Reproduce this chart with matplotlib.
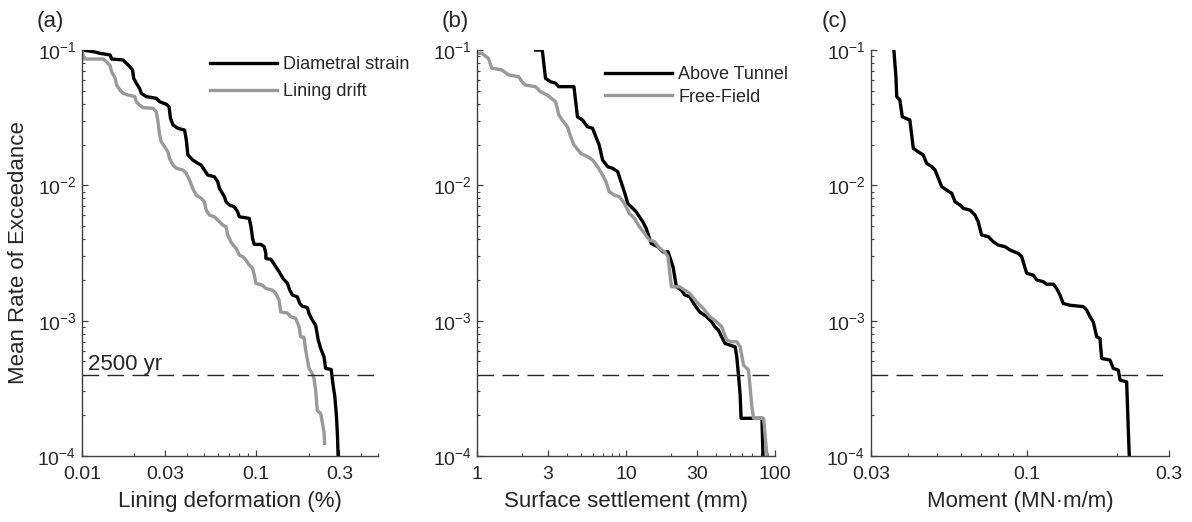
import matplotlib
matplotlib.use("Agg")
import matplotlib.pyplot as plt
from matplotlib.ticker import FixedLocator, LogLocator, NullFormatter, FixedFormatter

plt.rcParams['font.family'] = 'Liberation Sans'
plt.rcParams['mathtext.fontset'] = 'custom'
plt.rcParams['mathtext.rm'] = 'Liberation Sans'
plt.rcParams['mathtext.it'] = 'Liberation Sans:italic'

# (a) lining deformation (%)
diam_x = [0.0101, 0.0116, 0.0127, 0.0145, 0.0148, 0.0172, 0.0180, 0.0188, 0.0195, 0.0198,
          0.0205, 0.0214, 0.0219, 0.0234, 0.0267, 0.0279, 0.0305, 0.0316, 0.0322, 0.0333,
          0.0355, 0.0388, 0.0397, 0.0405, 0.0432, 0.0462, 0.0483, 0.0504, 0.0527, 0.0575,
          0.0601, 0.0615, 0.0657, 0.0671, 0.0702, 0.0748, 0.0782, 0.0799, 0.0912, 0.0933,
          0.0953, 0.0975, 0.1064, 0.1111, 0.1136, 0.1136, 0.1214, 0.1297, 0.1353, 0.1427,
          0.1510, 0.1559, 0.1612, 0.1722, 0.1778, 0.1841, 0.1966, 0.2009, 0.2099, 0.2193,
          0.2270, 0.2344, 0.2449, 0.2503, 0.2694, 0.2754, 0.2827, 0.2890, 0.2929, 0.2952]
diam_y = [0.100, 0.0972, 0.0945, 0.0919, 0.0858, 0.0844, 0.0797, 0.0753, 0.0712, 0.0618,
          0.0568, 0.0521, 0.0479, 0.0452, 0.0440, 0.0415, 0.0397, 0.0381, 0.0313, 0.0279,
          0.0264, 0.0256, 0.0216, 0.0168, 0.0154, 0.01455, 0.01413, 0.01298, 0.01191, 0.01158,
          0.01064, 0.00950, 0.00824, 0.00757, 0.00715, 0.00695, 0.00638, 0.00586, 0.00570, 0.00494,
          0.00406, 0.00366, 0.00366, 0.00352, 0.00314, 0.00288, 0.00284, 0.00250, 0.00230, 0.00205,
          0.00189, 0.00168, 0.00155, 0.00150, 0.00134, 0.00128, 0.00125, 0.00113, 0.00101, 0.000927,
          0.000719, 0.000624, 0.000541, 0.000444, 0.000436, 0.000344, 0.000274, 0.000195, 0.000139, 0.0001]

drift_x = [0.0100, 0.0103, 0.0132, 0.0138, 0.0145, 0.0148, 0.0155, 0.0158, 0.0165, 0.0172,
           0.0184, 0.0201, 0.0205, 0.0214, 0.0224, 0.0255, 0.0267, 0.0273, 0.0279, 0.0285,
           0.0298, 0.0311, 0.0318, 0.0333, 0.0348, 0.0379, 0.0397, 0.0414, 0.0432, 0.0452,
           0.0483, 0.0504, 0.0516, 0.0539, 0.0575, 0.0615, 0.0642, 0.0671, 0.0686, 0.0716,
           0.0732, 0.0766, 0.0793, 0.0800, 0.0836, 0.0873, 0.0912, 0.0953, 0.0975, 0.0996,
           0.1087, 0.1136, 0.1240, 0.1297, 0.1353, 0.1383, 0.1510, 0.1578, 0.1685, 0.1762,
           0.1800, 0.1880, 0.1922, 0.2009, 0.2099, 0.2145, 0.2193, 0.2240, 0.2344, 0.2393,
           0.2449, 0.2470]
drift_y = [0.097, 0.0858, 0.0858, 0.0820, 0.0766, 0.0691, 0.0618, 0.0551, 0.0506, 0.0479,
           0.0465, 0.0452, 0.0415, 0.0392, 0.0375, 0.0371, 0.0350, 0.0295, 0.0235, 0.0210,
           0.0193, 0.0177, 0.0158, 0.0141, 0.01336, 0.01298, 0.01227, 0.01094, 0.00950, 0.00848,
           0.00801, 0.00757, 0.00656, 0.00603, 0.00586, 0.00538, 0.00509, 0.00494, 0.00430, 0.00383,
           0.00366, 0.00342, 0.00314, 0.00305, 0.00297, 0.00280, 0.00258, 0.00244, 0.00217, 0.00189,
           0.00183, 0.00173, 0.00168, 0.00159, 0.00142, 0.00116, 0.00114, 0.00107, 0.00104, 0.000902,
           0.000760, 0.000753, 0.000607, 0.000444, 0.000407, 0.000375, 0.000307, 0.000218, 0.000206, 0.000179,
           0.000151, 0.000124]

# (b) surface settlement (mm)
above_x = [2.47, 2.74, 2.88, 3.11, 3.37, 3.54, 4.47, 4.72, 5.10, 5.51,
           5.96, 6.27, 6.60, 6.96, 7.52, 8.13, 8.79, 9.25, 9.74, 10.27,
           10.81, 11.69, 12.30, 12.97, 13.65, 14.75, 16.37, 17.70, 19.13, 20.68,
           21.77, 23.53, 24.78, 26.79, 28.94, 31.27, 34.73, 37.53, 39.51, 41.65,
           43.85, 46.17, 49.89, 53.95, 55.35, 56.86, 58.32, 59.20, 81.7, 83.0]
above_y = [0.100, 0.100, 0.0618, 0.0583, 0.0568, 0.0536, 0.0536, 0.0321, 0.0304, 0.0271,
           0.0264, 0.0229, 0.0199, 0.0154, 0.01374, 0.01336, 0.01262, 0.01064, 0.00898, 0.00736,
           0.00695, 0.00638, 0.00586, 0.00538, 0.00481, 0.00372, 0.00352, 0.00323, 0.00323, 0.00250,
           0.00178, 0.00168, 0.00155, 0.00150, 0.00130, 0.00116, 0.00107, 0.000982, 0.000902, 0.000853,
           0.000760, 0.000679, 0.000660, 0.000641, 0.000541, 0.000396, 0.000282, 0.000190, 0.000190, 0.0001]

free_x = [1.00, 1.00, 1.076, 1.192, 1.257, 1.469, 1.627, 1.901, 2.005, 2.11,
          2.466, 2.666, 2.958, 3.365, 3.54, 3.73, 4.04, 4.25, 4.47, 4.97,
          5.51, 5.96, 6.44, 6.96, 7.33, 7.71, 8.34, 9.01, 9.74, 10.52,
          11.38, 12.30, 13.30, 14.36, 15.53, 16.79, 18.15, 19.13, 20.14, 22.92,
          24.78, 26.79, 29.72, 32.97, 36.56, 40.55, 43.85, 47.40, 51.20, 55.35,
          58.32, 61.46, 66.39, 69.93, 71.8, 83.9, 86.1, 88.3]
free_y = [0.100, 0.0945, 0.0945, 0.0869, 0.0733, 0.0712, 0.0654, 0.0635, 0.0583, 0.0551,
          0.0536, 0.0492, 0.0465, 0.0415, 0.0331, 0.0304, 0.0271, 0.0229, 0.0199, 0.0172,
          0.0163, 0.0154, 0.01374, 0.01191, 0.01064, 0.00898, 0.00848, 0.00824, 0.00736, 0.00621,
          0.00570, 0.00494, 0.00442, 0.00394, 0.00383, 0.00342, 0.00323, 0.00297, 0.00178, 0.00178,
          0.00168, 0.00159, 0.00138, 0.00123, 0.00107, 0.000982, 0.000902, 0.000719, 0.000699, 0.000699,
          0.000641, 0.000470, 0.000432, 0.000231, 0.000190, 0.000190, 0.000135, 0.0001]

# (c) moment (MN.m/m)
moment_x = [0.0358, 0.0364, 0.0366, 0.0375, 0.0382, 0.0405, 0.0416, 0.0432, 0.0449, 0.0461,
            0.0480, 0.0492, 0.0505, 0.0518, 0.0538, 0.0560, 0.0574, 0.0597, 0.0612, 0.0645,
            0.0670, 0.0687, 0.0705, 0.0743, 0.0772, 0.0802, 0.0845, 0.0878, 0.0936, 0.0961,
            0.0999, 0.1051, 0.1079, 0.1136, 0.1166, 0.1227, 0.1259, 0.1292, 0.1325, 0.1396,
            0.1547, 0.1588, 0.1629, 0.1671, 0.1716, 0.1760, 0.1783, 0.1901, 0.1951, 0.2028,
            0.2055, 0.2163, 0.2190, 0.2207]
moment_y = [0.100, 0.0618, 0.0452, 0.0427, 0.0321, 0.0304, 0.01877, 0.0177, 0.0168, 0.01455,
            0.01374, 0.01298, 0.01127, 0.00977, 0.00923, 0.00873, 0.00757, 0.00715, 0.00676, 0.00656,
            0.00603, 0.00538, 0.00430, 0.00417, 0.00383, 0.00362, 0.00352, 0.00333, 0.00314, 0.00297,
            0.00224, 0.00217, 0.00200, 0.00194, 0.00186, 0.00186, 0.00173, 0.00155, 0.00134, 0.00130,
            0.00127, 0.00120, 0.00107, 0.000982, 0.000760, 0.000740, 0.000526, 0.000512, 0.000444, 0.000431,
            0.000364, 0.000353, 0.000160, 0.0001]

rate_2500 = 1 / 2500.0

xticks_a = [0.01, 0.03, 0.1, 0.3]
xticks_b = [1, 3, 10, 30, 100]
xticks_c = [0.03, 0.1, 0.3]

txt = '#262626'
gray = '#999999'
lw = 2.4

fig = plt.figure(figsize=(11.92, 5.22), dpi=100)
ax_a = fig.add_axes([0.0688, 0.1264, 0.2483, 0.7778])
ax_b = fig.add_axes([0.4002, 0.1264, 0.2500, 0.7778])
ax_c = fig.add_axes([0.7307, 0.1264, 0.2500, 0.7778])


def style(ax, xlim, xticks, xlabel):
    ax.set_xscale('log')
    ax.set_yscale('log')
    ax.set_xlim(xlim)
    ax.set_ylim(1e-4, 1e-1)
    ax.xaxis.set_major_locator(FixedLocator(xticks))
    ax.xaxis.set_major_formatter(FixedFormatter([('%g' % t) for t in xticks]))
    ax.xaxis.set_minor_locator(LogLocator(base=10, subs=range(2, 10), numticks=20))
    ax.xaxis.set_minor_formatter(NullFormatter())
    ax.yaxis.set_major_locator(FixedLocator([1e-4, 1e-3, 1e-2, 1e-1]))
    ax.yaxis.set_major_formatter(FixedFormatter([r'$10^{-4}$', r'$10^{-3}$', r'$10^{-2}$', r'$10^{-1}$']))
    ax.yaxis.set_minor_locator(LogLocator(base=10, subs=range(2, 10), numticks=20))
    ax.yaxis.set_minor_formatter(NullFormatter())
    for s in ['top', 'right']:
        ax.spines[s].set_visible(False)
    for s in ['left', 'bottom']:
        ax.spines[s].set_color('#404040')
        ax.spines[s].set_linewidth(1.0)
    ax.tick_params(which='major', direction='in', length=4.5, width=0.9,
                   colors='#404040', labelcolor=txt, labelsize=14)
    ax.tick_params(which='minor', direction='in', length=2.5, width=0.8, colors='#404040')
    ax.tick_params(axis='x', which='major', pad=7)
    ax.tick_params(axis='y', which='major', pad=4)
    ax.set_xlabel(xlabel, fontsize=16, color=txt, labelpad=6)
    ax.axhline(rate_2500, color=txt, lw=1.0, dashes=(12, 6))


# panel (a)
ax_a.plot(diam_x, diam_y, color='black', lw=lw, label='Diametral strain')
ax_a.plot(drift_x, drift_y, color=gray, lw=lw, label='Lining drift')
style(ax_a, (0.01, 0.5), xticks_a, 'Lining deformation (%)')
ax_a.set_ylabel('Mean Rate of Exceedance', fontsize=16, color=txt)
ax_a.yaxis.set_label_coords(-0.178, 0.5)
ax_a.text(0.0108, 4.3e-4, '2500 yr', fontsize=16, color=txt, va='baseline', ha='left')
leg = ax_a.legend(loc='upper left', bbox_to_anchor=(0.432, 0.985), frameon=False,
                  fontsize=13, handlelength=3.7, handletextpad=0.35, labelspacing=0.55,
                  borderpad=0, borderaxespad=0)
for t in leg.get_texts():
    t.set_color(txt)

# panel (b)
ax_b.plot(above_x, above_y, color='black', lw=lw, label='Above Tunnel')
ax_b.plot(free_x, free_y, color=gray, lw=lw, label='Free-Field')
style(ax_b, (1, 100), xticks_b, 'Surface settlement (mm)')
leg = ax_b.legend(loc='upper left', bbox_to_anchor=(0.43, 0.96), frameon=False,
                  fontsize=13, handlelength=3.7, handletextpad=0.35, labelspacing=0.3,
                  borderpad=0, borderaxespad=0)
for t in leg.get_texts():
    t.set_color(txt)

# panel (c)
ax_c.plot(moment_x, moment_y, color='black', lw=lw)
style(ax_c, (0.03, 0.3), xticks_c, 'Moment (MN\u00b7m/m)')

for ax, lab, xo in [(ax_a, '(a)', -0.152), (ax_b, '(b)', -0.118), (ax_c, '(c)', -0.165)]:
    ax.text(xo, 1.069, lab, transform=ax.transAxes, fontsize=16, color=txt,
            ha='left', va='center')

fig.savefig('out.png', dpi=100)
